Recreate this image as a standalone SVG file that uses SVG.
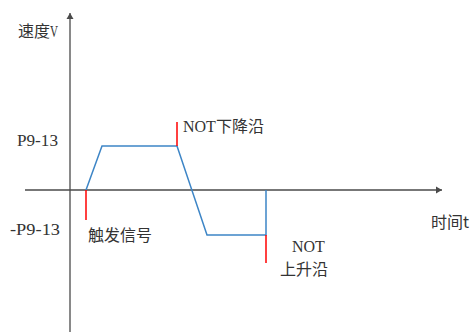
<svg xmlns="http://www.w3.org/2000/svg" width="476" height="333" viewBox="0 0 476 333">
<style>
.cjk{font-family:"Noto Sans CJK SC","Noto Sans",sans-serif;font-size:16px;fill:#333}
.lat{font-family:"Liberation Serif",serif;font-size:16px;fill:#333}
.axis{stroke:#4a4a4a;stroke-width:1.3;fill:none}
.blue{stroke:#3d85c6;stroke-width:1.5;fill:none}
.red{stroke:#ff0000;stroke-width:1.5;fill:none}
</style>
<defs>
<marker id="arr" markerWidth="8" markerHeight="8" refX="6" refY="4" orient="auto" markerUnits="userSpaceOnUse">
<path d="M0,0.5 L6,4 L0,7.5 Z" fill="#4a4a4a"/>
</marker>
</defs>
<rect width="476" height="333" fill="#fff"/>
<g id="connectors">
<line class="axis" x1="70" y1="332" x2="70" y2="13" marker-end="url(#arr)"/>
<line class="axis" x1="25" y1="190" x2="442" y2="190" marker-end="url(#arr)"/>
<polyline class="blue" points="86,190 102,146 177,146 207,235 266,235 266,190"/>
<line class="red" x1="86" y1="190" x2="86" y2="220"/>
<line class="red" x1="177" y1="122" x2="177" y2="146"/>
<line class="red" x1="266" y1="235" x2="266" y2="263"/>
</g>
<g id="label-speed"><text class="cjk" x="18" y="37">速度<tspan class="lat" textLength="8" lengthAdjust="spacingAndGlyphs">V</tspan></text></g>
<g id="label-p913"><text class="lat" x="17" y="146" textLength="41" lengthAdjust="spacingAndGlyphs">P9-13</text></g>
<g id="label-np913"><text class="lat" x="10" y="235" textLength="50" lengthAdjust="spacingAndGlyphs">-P9-13</text></g>
<g id="label-trigger"><text class="cjk" x="88" y="241">触发信号</text></g>
<g id="label-falling"><text class="cjk" x="183" y="132"><tspan class="lat" font-size="13">NOT</tspan>下降沿</text></g>
<g id="label-rising"><text class="lat" x="292" y="252" font-size="13">NOT</text><text class="cjk" x="280" y="275">上升沿</text></g>
<g id="label-time"><text class="cjk" x="431" y="228">时间t</text></g>
</svg>
